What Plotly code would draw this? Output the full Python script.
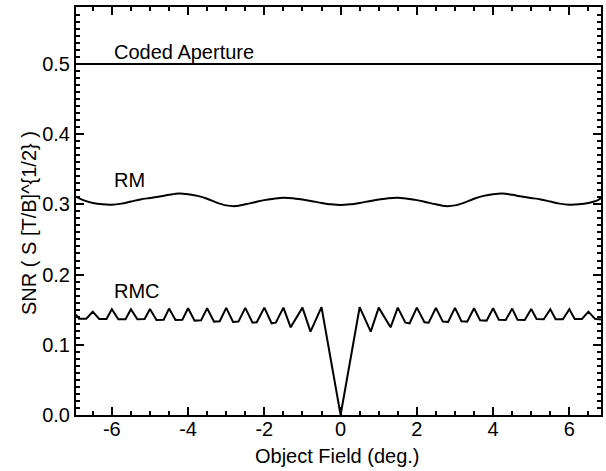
import plotly.graph_objects as go

# ---------------- data ----------------
coded_x = [-6.94, 6.83]
coded_y = [0.5, 0.5]

rm_x = [-6.94, -6.75, -6.5, -6.25, -6.0, -5.75, -5.5, -5.25, -5.0, -4.75, -4.5, -4.25,
        -4.0, -3.75, -3.5, -3.25, -3.0, -2.75, -2.5, -2.25, -2.0, -1.75, -1.5, -1.25,
        -1.0, -0.75, -0.5, -0.25, 0.0, 0.25, 0.5, 0.75, 1.0, 1.25, 1.5, 1.75, 2.0,
        2.25, 2.5, 2.75, 3.0, 3.25, 3.5, 3.75, 4.0, 4.25, 4.5, 4.75, 5.0, 5.25, 5.5,
        5.75, 6.0, 6.25, 6.5, 6.75, 6.83]
rm_y = [0.311, 0.306, 0.302, 0.300, 0.2995, 0.301, 0.304, 0.307, 0.309, 0.311, 0.3135, 0.3155,
        0.3145, 0.312, 0.308, 0.3025, 0.2985, 0.2975, 0.300, 0.303, 0.306, 0.308, 0.3095, 0.3088,
        0.3068, 0.3045, 0.302, 0.300, 0.299, 0.300, 0.302, 0.3045, 0.3068, 0.3088, 0.3095, 0.308, 0.306,
        0.303, 0.300, 0.2975, 0.2985, 0.3025, 0.308, 0.312, 0.3145, 0.3155, 0.3135, 0.311, 0.309, 0.307, 0.304,
        0.301, 0.2995, 0.300, 0.302, 0.306, 0.309]

rmc_x = [-6.94, -6.86, -6.67, -6.5, -6.33, -6.14, -6.0, -5.83, -5.64, -5.5, -5.33, -5.14,
         -5.0, -4.83, -4.64, -4.5, -4.33, -4.15, -4.0, -3.83, -3.66, -3.5, -3.32, -3.17,
         -3.0, -2.82, -2.68, -2.5, -2.31, -2.2, -2.0, -1.81, -1.7, -1.5, -1.31, -1.0,
         -0.79, -0.5, 0.0, 0.5, 0.79, 1.0, 1.31, 1.5, 1.7, 1.81, 2.0, 2.2, 2.31, 2.5,
         2.68, 2.82, 3.0, 3.17, 3.32, 3.5, 3.66, 3.83, 4.0, 4.15, 4.33, 4.5, 4.64, 4.83,
         5.0, 5.14, 5.33, 5.5, 5.64, 5.83, 6.0, 6.14, 6.33, 6.5, 6.67, 6.83]
rmc_y = [0.143, 0.137, 0.137, 0.1472, 0.1368, 0.1368, 0.1505, 0.1363, 0.1363, 0.1505, 0.1363, 0.1366,
         0.151, 0.1353, 0.1356, 0.1515, 0.1353, 0.1356, 0.152, 0.1344, 0.1348, 0.152, 0.1330, 0.1335,
         0.1525, 0.1325, 0.1330, 0.1525, 0.1315, 0.1320, 0.1529, 0.1306, 0.1315, 0.1529, 0.1249, 0.1529,
         0.1187, 0.1535, 0.0, 0.1535, 0.1187, 0.1529, 0.1249, 0.1529, 0.1315, 0.1306, 0.1529, 0.1320, 0.1315, 0.1525,
         0.1330, 0.1325, 0.1525, 0.1335, 0.1330, 0.152, 0.1348, 0.1344, 0.152, 0.1356, 0.1353, 0.1515, 0.1356, 0.1353,
         0.151, 0.1366, 0.1363, 0.1505, 0.1363, 0.1363, 0.1505, 0.1368, 0.1368, 0.1472, 0.137, 0.136]

labels = ["Coded Aperture", "RM", "RMC"]
label_x = [-6.0, -6.0, -6.0]
label_y = [0.517, 0.334, 0.177]

x_tickvals = [-6, -4, -2, 0, 2, 4, 6]
x_ticktext = ["-6", "-4", "-2", "0", "2", "4", "6"]
y_tickvals = [0.0, 0.1, 0.2, 0.3, 0.4, 0.5]
y_ticktext = ["0.0", "0.1", "0.2", "0.3", "0.4", "0.5"]

x_range = [-6.94, 6.83]
y_range = [0.0, 0.581]

FONT = "Liberation Sans, Arial, Helvetica, sans-serif"

fig = go.Figure()
line = dict(color="black", width=2)
fig.add_trace(go.Scatter(x=coded_x, y=coded_y, mode="lines", line=line))
fig.add_trace(go.Scatter(x=rm_x, y=rm_y, mode="lines", line=dict(color="black", width=2, shape="spline", smoothing=0.8)))
fig.add_trace(go.Scatter(x=rmc_x, y=rmc_y, mode="lines", line=line))

for t, lx, ly in zip(labels, label_x, label_y):
    fig.add_annotation(x=lx, y=ly, xref="x", yref="y", text=t, showarrow=False,
                       xanchor="left", yanchor="middle", font=dict(size=20, color="black", family=FONT))

fig.add_annotation(x=0.498, y=-0.1, xref="paper", yref="paper", text="Object Field (deg.)",
                   showarrow=False, xanchor="center", yanchor="middle",
                   font=dict(size=20, color="black", family=FONT))
fig.add_annotation(x=-0.09, y=0.47, xref="paper", yref="paper", text="SNR ( S [T/B]^{1/2} )",
                   textangle=-90, showarrow=False, xanchor="center", yanchor="middle",
                   font=dict(size=20, color="black", family=FONT))

axis_common = dict(showgrid=False, zeroline=False, showline=True, linecolor="black", linewidth=2,
                   mirror="allticks", ticks="inside", tickcolor="black", tickwidth=2, ticklen=8,
                   tickfont=dict(size=20, color="black", family=FONT))
fig.update_layout(
    xaxis=dict(range=x_range, tickmode="array", tickvals=x_tickvals, ticktext=x_ticktext,
               ticklabelstandoff=-5,
               minor=dict(ticks="inside", dtick=0.5, tick0=0, ticklen=4, tickwidth=2,
                          tickcolor="black", showgrid=False),
               **axis_common),
    yaxis=dict(range=y_range, tickmode="array", tickvals=y_tickvals, ticktext=y_ticktext,
               minor=dict(ticks="inside", dtick=0.01, tick0=0, ticklen=4, tickwidth=2,
                          tickcolor="black", showgrid=False),
               **axis_common),
)

fig.update_layout(width=606, height=471, margin=dict(l=76, r=3, t=7, b=56),
                  paper_bgcolor="white", plot_bgcolor="white", showlegend=False,
                  font=dict(family=FONT, color="black"))

fig.write_html("out.html")
